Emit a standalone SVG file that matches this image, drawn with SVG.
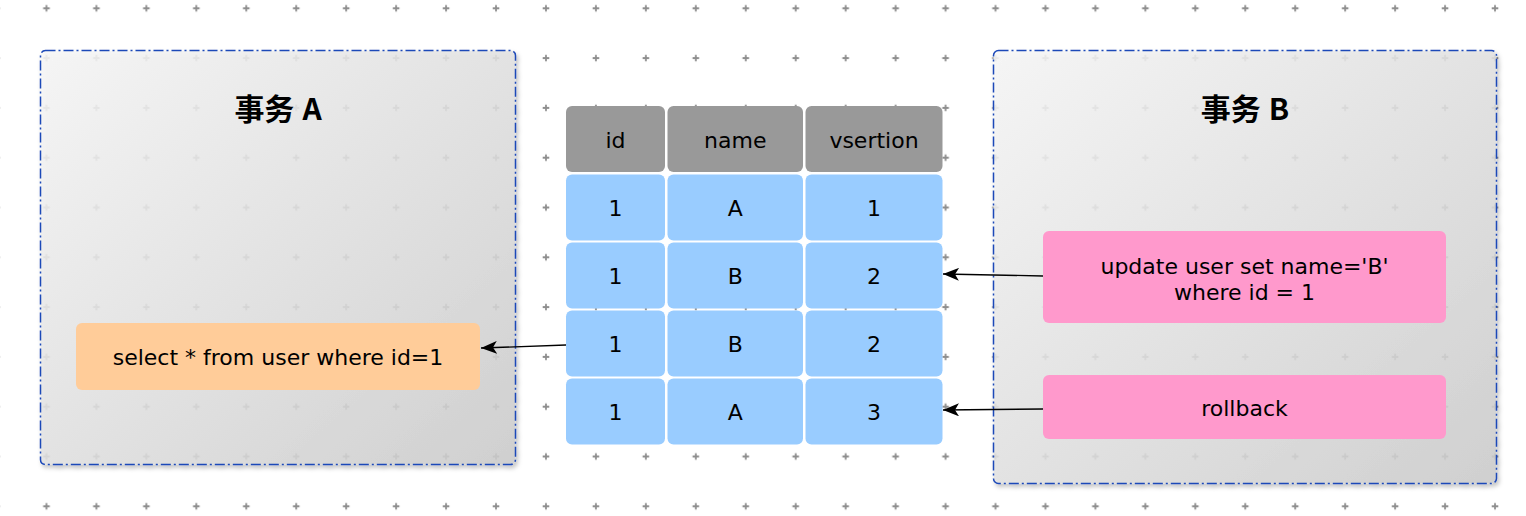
<svg xmlns="http://www.w3.org/2000/svg" width="1526" height="516" viewBox="0 0 1526 516">
<defs>
<style>
.t{font-family:"DejaVu Sans","Liberation Sans",sans-serif;font-size:22px;fill:#000;text-anchor:middle}
.title{font-family:"Noto Sans CJK SC","DejaVu Sans",sans-serif;font-size:30px;font-weight:bold;fill:#000;text-anchor:middle}
.hd{fill:#999999}
.cell{fill:#99ccff}
.grp{fill:url(#gg);fill-opacity:0.86;stroke:#1b48b8;stroke-width:1.5;stroke-dasharray:10 3 2 3;filter:url(#sh)}
.edge{fill:none;stroke:#000;stroke-width:1.3;marker-end:url(#arr)}
</style>
<pattern id="grid" x="21.5" y="-16.6" width="49.95" height="49.8" patternUnits="userSpaceOnUse">
<path d="M21.7,24.9H28.25M24.975,21.6V28.2" stroke="#8e8e8e" stroke-width="1.8" fill="none"/>
</pattern>
<linearGradient id="gg" x1="0" y1="0" x2="1" y2="1">
<stop offset="0" stop-color="#f8f8f8"/>
<stop offset="1" stop-color="#cdcdcd"/>
</linearGradient>
<filter id="sh" x="-5%" y="-5%" width="110%" height="110%">
<feDropShadow dx="2" dy="3" stdDeviation="2.2" flood-color="#000" flood-opacity="0.25"/>
</filter>
<marker id="arr" markerUnits="userSpaceOnUse" markerWidth="16" markerHeight="13" viewBox="0 0 16 13" refX="16" refY="6.5" orient="auto">
<path d="M0,0 L16,6.5 L0,13 L4,6.5 Z" fill="#000"/>
</marker>
</defs>
<rect width="1526" height="516" fill="#fff"/>
<rect width="1526" height="516" fill="url(#grid)"/>

<g id="txA">
<rect class="grp" x="40.5" y="50.5" width="475" height="414" rx="5"/>
<text class="title" x="278" y="120">事务<tspan dx="8">A</tspan></text>
</g>
<g id="txB">
<rect class="grp" x="993.5" y="50.5" width="503" height="433" rx="5"/>
<text class="title" x="1245" y="120">事务<tspan dx="8">B</tspan></text>
</g>

<g id="select">
<rect x="76" y="323" width="404" height="67" rx="6" fill="#ffcc99"/>
<text class="t" x="278" y="365">select * from user where id=1</text>
</g>
<g id="update">
<rect x="1043" y="231" width="403" height="92" rx="6" fill="#ff99cc"/>
<text class="t" x="1244.5" y="274">update user set name='B'</text>
<text class="t" x="1244.5" y="300">where id = 1</text>
</g>
<g id="rollback">
<rect x="1043" y="375" width="403" height="64" rx="6" fill="#ff99cc"/>
<text class="t" x="1244.5" y="416">rollback</text>
</g>

<g id="table">
<g id="header">
<rect class="hd" x="566" y="106" width="99" height="66" rx="6"/>
<rect class="hd" x="667.5" y="106" width="135.5" height="66" rx="6"/>
<rect class="hd" x="805.5" y="106" width="137" height="66" rx="6"/>
<text class="t" x="615.5" y="148">id</text>
<text class="t" x="735.25" y="148">name</text>
<text class="t" x="874" y="148">vsertion</text>
</g>
<g id="row1">
<rect class="cell" x="566" y="174.5" width="99" height="66" rx="6"/>
<rect class="cell" x="667.5" y="174.5" width="135.5" height="66" rx="6"/>
<rect class="cell" x="805.5" y="174.5" width="137" height="66" rx="6"/>
<text class="t" x="615.5" y="216">1</text>
<text class="t" x="735.25" y="216">A</text>
<text class="t" x="874" y="216">1</text>
</g>
<g id="row2">
<rect class="cell" x="566" y="242.5" width="99" height="66" rx="6"/>
<rect class="cell" x="667.5" y="242.5" width="135.5" height="66" rx="6"/>
<rect class="cell" x="805.5" y="242.5" width="137" height="66" rx="6"/>
<text class="t" x="615.5" y="284">1</text>
<text class="t" x="735.25" y="284">B</text>
<text class="t" x="874" y="284">2</text>
</g>
<g id="row3">
<rect class="cell" x="566" y="310.5" width="99" height="66" rx="6"/>
<rect class="cell" x="667.5" y="310.5" width="135.5" height="66" rx="6"/>
<rect class="cell" x="805.5" y="310.5" width="137" height="66" rx="6"/>
<text class="t" x="615.5" y="352">1</text>
<text class="t" x="735.25" y="352">B</text>
<text class="t" x="874" y="352">2</text>
</g>
<g id="row4">
<rect class="cell" x="566" y="378.5" width="99" height="66" rx="6"/>
<rect class="cell" x="667.5" y="378.5" width="135.5" height="66" rx="6"/>
<rect class="cell" x="805.5" y="378.5" width="137" height="66" rx="6"/>
<text class="t" x="615.5" y="420">1</text>
<text class="t" x="735.25" y="420">A</text>
<text class="t" x="874" y="420">3</text>
</g>
</g>

<g id="connectors">
<path class="edge" d="M1043,276 L943,274"/>
<path class="edge" d="M1043,409 L943,410"/>
<path class="edge" d="M566,345 L481,348"/>
</g>
</svg>
